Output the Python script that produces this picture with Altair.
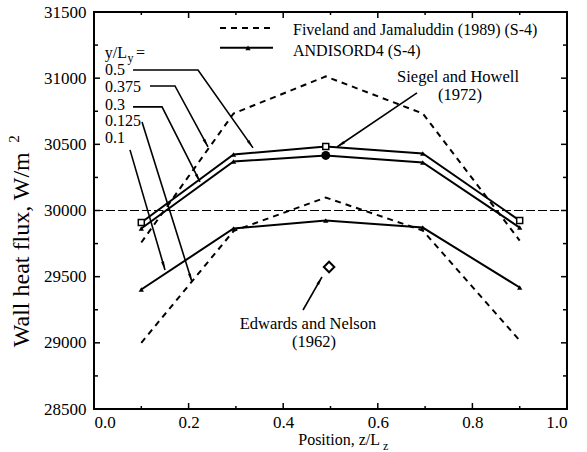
import math
import altair as alt
import pandas as pd

# ---------------- data ----------------
positions = [0.1, 0.295, 0.49, 0.695, 0.9]
solid_050 = [29909, 30423, 30484, 30431, 29924]
solid_030 = [29864, 30370, 30416, 30363, 29871]
solid_010 = [29403, 29864, 29924, 29871, 29418]
dash_0375 = [29758, 30733, 31013, 30733, 29773]
dash_0125 = [29000, 29845, 30098, 29849, 29017]

siegel_x, siegel_y = [0.49], [30416]
edwards_x, edwards_y = [0.497], [29573]
reference_line = [30000]

x_ticks = [0.0, 0.2, 0.4, 0.6, 0.8, 1.0]
x_minor = [0.1, 0.3, 0.5, 0.7, 0.9]
y_ticks = [28500, 29000, 29500, 30000, 30500, 31000, 31500]
y_minor = [28750, 29250, 29750, 30250, 30750, 31250]

label_text = ["0.5", "0.375", "0.3", "0.125", "0.1"]
label_x = [0.0233, 0.0233, 0.0233, 0.0233, 0.0233]
label_y = [31062, 30934, 30798, 30677, 30548]

# leader lines (data coordinates)
leaders = {
    "0.5": ([0.0825, 0.2199, 0.3362], [31062, 31062, 30473]),
    "0.375": ([0.1184, 0.1712, 0.2410], [30941, 30941, 30480]),
    "0.3": ([0.0825, 0.1438, 0.2241], [30783, 30783, 30216]),
    "0.125": ([0.1015, 0.2072], [30669, 29460]),
    "0.1": ([0.0761, 0.1501], [30458, 29551]),
    "siegel": ([0.6829, 0.5137], [30889, 30480]),
    "edwards": ([0.4419, 0.4820], [29248, 29498]),
}

W, H = 473, 397
X_DOM, Y_DOM = [0, 1], [28500, 31500]
FONT = "Liberation Serif"

def angle(x1, y1, x2, y2):
    dxp = (x2 - x1) * W / (X_DOM[1] - X_DOM[0])
    dyp = -(y2 - y1) * H / (Y_DOM[1] - Y_DOM[0])
    return math.degrees(math.atan2(dxp, -dyp)) % 360

# ---------------- frames ----------------
rows = []
for name, vals, style in [("0.5", solid_050, "solid"), ("0.3", solid_030, "solid"),
                          ("0.1", solid_010, "solid"), ("0.375", dash_0375, "dash"),
                          ("0.125", dash_0125, "dash")]:
    for i, (xv, yv) in enumerate(zip(positions, vals)):
        rows.append({"series": name, "style": style, "x": xv, "y": yv, "o": i})
df = pd.DataFrame(rows)

lead_rows, head_rows = [], []
for k, (xs, ys) in leaders.items():
    for i, (xv, yv) in enumerate(zip(xs, ys)):
        lead_rows.append({"id": k, "x": xv, "y": yv, "o": i})
    head_rows.append({"x": xs[-1], "y": ys[-1], "a": angle(xs[-2], ys[-2], xs[-1], ys[-1])})
lead_df = pd.DataFrame(lead_rows)
head_df = pd.DataFrame(head_rows)

xs_scale = alt.Scale(domain=X_DOM, nice=False, zero=False)
ys_scale = alt.Scale(domain=Y_DOM, nice=False, zero=False)
x_axis = alt.Axis(values=x_ticks, format=".1f", ticks=False, domain=False, grid=False,
                  labelFont=FONT, labelFontSize=17, labelColor="black", labelPadding=5,
                  title=None)
y_axis = alt.Axis(values=y_ticks, format="d", ticks=False, domain=False, grid=False,
                  labelFont=FONT, labelFontSize=17, labelColor="black", labelPadding=8,
                  title=None)
X = lambda f="x": alt.X(f"{f}:Q", scale=xs_scale, axis=x_axis)
Y = lambda f="y": alt.Y(f"{f}:Q", scale=ys_scale, axis=y_axis)

# inward ticks
maj_len_x = 6 * (Y_DOM[1] - Y_DOM[0]) / H
min_len_x = 3 * (Y_DOM[1] - Y_DOM[0]) / H
tick_rows = []
for t in x_ticks[1:-1]:
    tick_rows += [{"x": t, "x2": t, "y": Y_DOM[0], "y2": Y_DOM[0] + maj_len_x},
                  {"x": t, "x2": t, "y": Y_DOM[1], "y2": Y_DOM[1] - maj_len_x}]
for t in x_minor:
    tick_rows += [{"x": t, "x2": t, "y": Y_DOM[0], "y2": Y_DOM[0] + min_len_x},
                  {"x": t, "x2": t, "y": Y_DOM[1], "y2": Y_DOM[1] - min_len_x}]
maj_len_y = 6 / W
min_len_y = 4 / W
for t in y_ticks[1:-1]:
    tick_rows += [{"x": 0, "x2": maj_len_y, "y": t, "y2": t},
                  {"x": 1, "x2": 1 - maj_len_y, "y": t, "y2": t}]
for t in y_minor:
    tick_rows += [{"x": 0, "x2": min_len_y, "y": t, "y2": t},
                  {"x": 1, "x2": 1 - min_len_y, "y": t, "y2": t}]
ticks = alt.Chart(pd.DataFrame(tick_rows)).mark_rule(color="black", strokeWidth=1.5).encode(
    x=X(), x2="x2:Q", y=Y(), y2="y2:Q")

ref = alt.Chart(pd.DataFrame({"y": reference_line, "x": [0.0], "x2": [1.0]})).mark_rule(
    color="black", strokeWidth=1, strokeDash=[9, 3]).encode(x=X(), x2="x2:Q", y=Y())

dashed = alt.Chart(df[df["style"] == "dash"]).mark_line(
    color="black", strokeWidth=2, strokeDash=[6, 5]).encode(
    x=X(), y=Y(), detail="series:N", order="o:Q")
solid = alt.Chart(df[df["style"] == "solid"]).mark_line(
    color="black", strokeWidth=2).encode(x=X(), y=Y(), detail="series:N", order="o:Q")
tri = alt.Chart(df[df["style"] == "solid"]).mark_point(
    shape="triangle-up", filled=True, color="black", size=28, opacity=1).encode(x=X(), y=Y())

sq_df = pd.DataFrame({"x": [positions[0], positions[2], positions[4]],
                      "y": [solid_050[0], solid_050[2], solid_050[4]]})
squares = alt.Chart(sq_df).mark_point(shape="square", filled=True, fill="white",
                                      stroke="black", strokeWidth=1.5, size=36, opacity=1).encode(x=X(), y=Y())
circle = alt.Chart(pd.DataFrame({"x": siegel_x, "y": siegel_y})).mark_point(
    shape="circle", filled=True, color="black", size=80, opacity=1).encode(x=X(), y=Y())
diamond = alt.Chart(pd.DataFrame({"x": edwards_x, "y": edwards_y})).mark_point(
    shape="diamond", filled=True, fill="white", stroke="black", strokeWidth=2, size=110,
    opacity=1).encode(x=X(), y=Y())

leader_lines = alt.Chart(lead_df).mark_line(color="black", strokeWidth=1.6).encode(
    x=X(), y=Y(), detail="id:N", order="o:Q")
heads = alt.Chart(head_df).mark_point(
    shape="M0,0L0.38,2.2L-0.38,2.2Z", filled=True, color="black", size=60, opacity=1).encode(
    x=X(), y=Y(), angle=alt.Angle("a:Q", scale=None))

# legend (drawn as annotations)
leg_line = pd.DataFrame({"x": [0.2664, 0.3784], "y": [31380, 31380]})
leg_solid = pd.DataFrame({"x": [0.2664, 0.3784], "y": [31229, 31229]})
leg1 = alt.Chart(leg_line).mark_line(color="black", strokeWidth=2, strokeDash=[6, 5]).encode(x=X(), y=Y())
leg2 = alt.Chart(leg_solid).mark_line(color="black", strokeWidth=2).encode(x=X(), y=Y())
leg3 = alt.Chart(pd.DataFrame({"x": [0.3256], "y": [31229]})).mark_point(
    shape="triangle-up", filled=True, color="black", size=28, opacity=1).encode(x=X(), y=Y())

def text_layer(texts, xs, ys, size=16, align="left", ang=0):
    d = pd.DataFrame({"t": texts, "x": xs, "y": ys})
    return alt.Chart(d).mark_text(font=FONT, fontSize=size, align=align, baseline="middle",
                                  color="black", angle=ang).encode(x=X(), y=Y(), text="t:N")

legend_text = text_layer(["Fiveland and Jamaluddin (1989) (S-4)", "ANDISORD4  (S-4)"],
                         [0.4207, 0.4207], [31365, 31206], size=16)
labels = text_layer(label_text, label_x, label_y, size=16)
ylab1 = text_layer(["y/L"], [0.0698], [31191], size=16, align="right")
ylab2 = text_layer(["y"], [0.0710], [31150], size=12)
ylab3 = text_layer(["="], [0.0888], [31191], size=16)
siegel_t = text_layer(["Siegel and Howell", "(1972)"], [0.7696, 0.7738], [31009, 30873],
                      size=16.5, align="center")
edw_t = text_layer(["Edwards and Nelson", "(1962)"], [0.4524, 0.4651], [29142, 29006],
                   size=16.5, align="center")
xtitle = text_layer(["Position, z/L"], [0.6047], [28266], size=16, align="right")
xtitle_sub = text_layer(["z"], [0.6110], [28222], size=12)
ytitle = text_layer(["Wall heat flux,  W/m"], [-0.1522], [30440], size=24, align="right", ang=270)
ytitle_sup = text_layer(["2"], [-0.1700], [30540], size=15, align="center", ang=270)

chart = alt.layer(
    ref, ticks, dashed, solid, tri, squares, circle, diamond,
    leader_lines, heads, leg1, leg2, leg3, legend_text, labels, ylab1, ylab2, ylab3,
    siegel_t, edw_t, xtitle, xtitle_sub, ytitle, ytitle_sup,
).properties(
    width=W, height=H,
    autosize=alt.AutoSizeParams(type="none"),
    padding={"left": 94, "top": 12, "right": 20, "bottom": 43},
    background="white",
).configure_view(stroke="black", strokeWidth=2)

chart.save("out.html", embed_options={"renderer": "svg", "actions": False})
